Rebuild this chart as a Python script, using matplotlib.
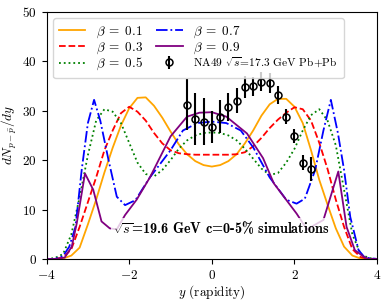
import matplotlib
matplotlib.use('Agg')
import matplotlib.pyplot as plt

plt.rcParams['font.family'] = 'serif'
plt.rcParams['font.serif'] = ['cmr10']
plt.rcParams['mathtext.fontset'] = 'cm'
plt.rcParams['axes.formatter.use_mathtext'] = True
plt.rcParams['font.size'] = 9.5

# ============================================
# Simulation curves
# ============================================
x_b01 = [-4.0, -3.8, -3.6, -3.4, -3.2, -3.0, -2.8, -2.6, -2.4, -2.2, -2.0, -1.8, -1.6,
         -1.4, -1.2, -1.0, -0.8, -0.6, -0.4, -0.2, 0.0, 0.2, 0.4, 0.6, 0.8, 1.0, 1.2,
         1.4, 1.6, 1.8, 2.0, 2.2, 2.4, 2.6, 2.8, 3.0, 3.2, 3.4, 3.6, 3.8, 4.0]
y_b01 = [0, 0, 0.1, 0.7, 2.3, 7.0, 12.0, 17.5, 22.5, 27.0, 30.5, 32.6, 32.7,
         31.0, 28.6, 25.8, 23.2, 21.2, 19.8, 19.0, 18.7, 19.0, 19.8, 21.2, 23.4, 26.0, 29.0,
         31.3, 32.4, 32.4, 30.8, 27.5, 22.0, 16.0, 11.0, 6.2, 2.5, 0.7, 0.1, 0, 0]

x_b03 = [-4.0, -3.8, -3.6, -3.4, -3.2, -3.0, -2.8, -2.6, -2.4, -2.2, -2.0, -1.8, -1.6,
         -1.4, -1.2, -1.0, -0.8, -0.6, -0.4, -0.2, 0.0, 0.2, 0.4, 0.6, 0.8, 1.0, 1.2,
         1.4, 1.6, 1.8, 2.0, 2.2, 2.4, 2.6, 2.8, 3.0, 3.2, 3.4, 3.6, 3.8, 4.0]
y_b03 = [0, 0, 0.3, 2.0, 6.5, 11.5, 16.5, 22.0, 26.0, 29.5, 30.8, 29.8, 28.0,
         25.5, 23.4, 22.0, 21.4, 21.2, 21.1, 21.1, 21.1, 21.1, 21.1, 21.2, 21.6, 22.8, 24.5,
         26.5, 28.2, 29.6, 30.7, 30.3, 28.0, 23.5, 18.2, 12.0, 6.5, 2.0, 0.4, 0, 0]

x_b05 = [-4.0, -3.8, -3.6, -3.4, -3.2, -3.0, -2.8, -2.6, -2.4, -2.2, -2.0, -1.8, -1.6,
         -1.4, -1.2, -1.0, -0.8, -0.6, -0.4, -0.2, 0.0, 0.2, 0.4, 0.6, 0.8, 1.0, 1.2,
         1.4, 1.6, 1.8, 2.0, 2.2, 2.4, 2.6, 2.8, 3.0, 3.2, 3.4, 3.6, 3.8, 4.0]
y_b05 = [0, 0.2, 1.0, 5.0, 12.5, 21.0, 28.0, 30.3, 29.8, 27.5, 23.5, 19.5, 17.2,
         16.7, 18.0, 20.0, 22.3, 24.0, 25.0, 25.5, 25.6, 25.5, 25.0, 24.0, 22.3, 20.3, 18.3,
         17.0, 17.4, 19.5, 22.3, 26.0, 29.1, 30.3, 28.0, 23.0, 14.0, 5.0, 1.0, 0.2, 0]

x_b07 = [-4.0, -3.8, -3.6, -3.45, -3.3, -3.15, -3.0, -2.85, -2.7, -2.5, -2.3, -2.1,
         -1.85, -1.5, -1.0, -0.7, -0.35, 0.0, 0.35, 0.7, 1.0, 1.4, 1.8, 2.05, 2.25,
         2.5, 2.7, 2.88, 3.05, 3.2, 3.35, 3.55, 3.7, 4.0]
y_b07 = [0, 0, 0.6, 2.5, 6.5, 18.0, 27.5, 32.2, 28.0, 20.0, 12.6, 10.9,
         11.9, 16.5, 22.0, 26.0, 27.5, 27.8, 27.5, 26.0, 22.6, 16.5, 12.0, 11.2, 12.2,
         18.0, 26.0, 32.2, 25.5, 18.0, 8.5, 1.8, 0.3, 0]

x_b09 = [-4.0, -3.8, -3.56, -3.39, -3.27, -3.07, -2.87, -2.67, -2.47, -2.3, -2.1,
         -1.82, -1.5, -1.0, -0.6, -0.3, 0.0, 0.35, 0.85, 1.24, 1.5, 2.05, 2.3, 2.7,
         3.06, 3.26, 3.46, 3.67, 3.8, 4.0]
y_b09 = [0, 0, 0.3, 2.5, 7.2, 17.3, 14.0, 7.6, 6.2, 6.0, 8.9,
         12.0, 16.5, 24.8, 28.8, 29.6, 29.7, 28.8, 25.4, 20.4, 15.3, 9.2, 6.0, 7.9,
         17.7, 6.5, 1.8, 0.5, 0, 0]

# ============================================
# NA49 data points
# ============================================
na49_y = [-0.6, -0.4, -0.2, 0.0, 0.2, 0.4, 0.6, 0.8, 1.0, 1.2, 1.4, 1.6, 1.8, 2.0, 2.2, 2.4]
na49_dn = [31.2, 28.3, 27.8, 26.7, 28.8, 30.8, 32.0, 34.8, 34.9, 35.9, 35.6, 33.2, 28.8, 24.9, 19.5, 18.2]
na49_err = [5.2, 5.2, 4.8, 3.3, 3.3, 2.8, 2.5, 2.2, 2.0, 2.0, 2.0, 1.8, 1.5, 1.5, 1.5, 2.5]

fig, ax = plt.subplots(figsize=(3.88, 3.04), dpi=100)
fig.subplots_adjust(left=0.12, right=0.972, bottom=0.148, top=0.961)

ax.plot(x_b01, y_b01, color='orange', linestyle='-', lw=1.3, label=r'$\beta\;=\;0.1$')
ax.plot(x_b03, y_b03, color='red', linestyle='--', lw=1.3, label=r'$\beta\;=\;0.3$')
ax.plot(x_b05, y_b05, color='green', linestyle=':', lw=1.3, label=r'$\beta\;=\;0.5$')
ax.plot(x_b07, y_b07, color='blue', linestyle='-.', lw=1.3, label=r'$\beta\;=\;0.7$')
ax.plot(x_b09, y_b09, color='purple', linestyle='-', lw=1.3, label=r'$\beta\;=\;0.9$')
ax.errorbar(na49_y, na49_dn, yerr=na49_err, fmt='o', mfc='none', mec='black',
            ecolor='black', ms=5, elinewidth=1.5, mew=1.1,
            label=r'NA49 $\sqrt{s}$=17.3 GeV Pb+Pb')

ax.text(-2.4, 6.3, r'$\sqrt{s}$=19.6 GeV c=0-5% simulations', family='cmb10',
        fontsize=10.2, va='center', ha='left',
        bbox=dict(facecolor='white', edgecolor='none', alpha=0.8, pad=1))

ax.set_xlim(-4, 4)
ax.set_ylim(0, 50)
ax.set_xticks([-4, -2, 0, 2, 4])
ax.set_yticks([0, 10, 20, 30, 40, 50])
ax.set_xlabel(r'$y$ (rapidity)', labelpad=1)
ax.set_ylabel(r'$dN_{p-\bar{p}}/dy$', labelpad=2)
leg = ax.legend(loc='upper left', ncol=2, fontsize=9.5, handlelength=2.0,
                columnspacing=1.0, labelspacing=0.03, borderpad=0.45)
leg.get_texts()[5].set_fontsize(8.2)

fig.savefig('out.png', dpi=100)
